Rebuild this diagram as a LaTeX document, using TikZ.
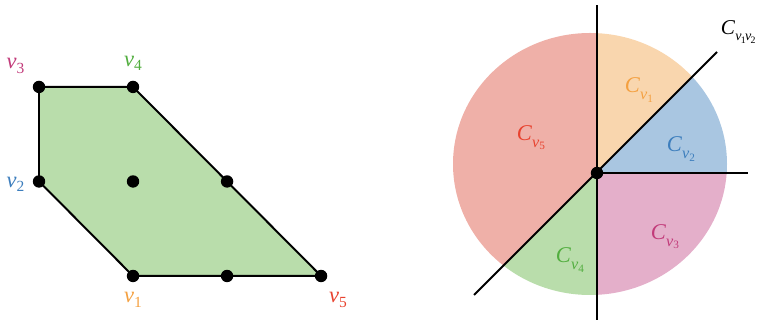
\documentclass[tikz,border=0pt]{standalone}
\usepackage{fontspec}
\setmainfont{Liberation Serif}
\usepackage{xcolor}
\usetikzlibrary{calc}
\definecolor{polygreen}{HTML}{B9DDAB}
\definecolor{conered}{HTML}{EFB0A8}
\definecolor{coneorange}{HTML}{F9D6AE}
\definecolor{coneblue}{HTML}{A9C6E1}
\definecolor{conepurple}{HTML}{E4AFCA}
\definecolor{conegreen}{HTML}{B9DDAB}
\definecolor{txtorange}{HTML}{F4A040}
\definecolor{txtblue}{HTML}{3D7EBD}
\definecolor{txtpurple}{HTML}{C23B7A}
\definecolor{txtgreen}{HTML}{52AE3F}
\definecolor{txtred}{HTML}{E8432F}
\newcommand{\vsub}[1]{\textit{v}\raisebox{-0.45ex}{\fontsize{11}{11}\selectfont #1}}
\newcommand{\csub}[1]{\textit{C}\raisebox{-0.6ex}{\fontsize{11.5}{12}\selectfont\itshape v\raisebox{-0.4ex}{\fontsize{8}{8}\selectfont\upshape #1}}}
\newcommand{\cpair}[2]{\textit{C}\raisebox{-0.6ex}{\fontsize{10}{11}\selectfont\itshape v\kern-0.05em\raisebox{-0.4ex}{\fontsize{7}{7}\selectfont\upshape #1}\kern-0.05em v\kern-0.05em\raisebox{-0.4ex}{\fontsize{7}{7}\selectfont\upshape #2}}}

\begin{document}
\begin{tikzpicture}[x=0.025cm, y=0.025cm, line width=1.4pt,
    lbl/.style={inner sep=0pt, font=\fontsize{16}{18}\selectfont},
    dot/.style={circle, fill=black, inner sep=0pt, minimum size=0.31cm}]
  \useasboundingbox (0,0) rectangle (758,321);

  % ================= LEFT: THE POLYGON =================
  \begin{scope}[shift={(0.975cm,1.125cm)}, x=2.35cm, y=2.3625cm]
    % Vertices
    \coordinate (v1) at (1,0);
    \coordinate (v5) at (3,0);
    \coordinate (v4) at (1,2);
    \coordinate (v3) at (0,2);
    \coordinate (v2) at (0,1);

    % Polygon
    \filldraw[fill=polygreen, draw=black] (v1) -- (v5) -- (v4) -- (v3) -- (v2) -- cycle;

    % Lattice points
    \foreach \p in {(0,1),(0,2),(1,2),(1,0),(3,0),(1,1),(2,1),(2,0)}
      \node[dot] at \p {};

    % Vertex labels
    \node[lbl, text=txtorange] (l1) at (1.0,-0.25) {\vsub{1}};
    \node[lbl, text=txtblue]   (l2) at (-0.25,0.97) {\vsub{2}};
    \node[lbl, text=txtpurple] (l3) at (-0.25,2.22) {\vsub{3}};
    \node[lbl, text=txtgreen]  (l4) at (1.0,2.25) {\vsub{4}};
    \node[lbl, text=txtred]    (l5) at (3.18,-0.25) {\vsub{5}};
  \end{scope}

  % ================= RIGHT: THE NORMAL FAN =================
  \coordinate (o) at (597,148);
  \begin{scope}
    \clip (590,157) ellipse [x radius=137, y radius=131];
    \fill[coneorange] (o) -- (597,400) -- (849,400) -- cycle;
    \fill[coneblue]   (o) -- (849,400) -- (849,148) -- cycle;
    \fill[conepurple] (o) -- (849,148) -- (849,-100) -- (597,-100) -- cycle;
    \fill[conegreen]  (o) -- (597,-100) -- (349,-100) -- cycle;
    \fill[conered]    (o) -- (349,-100) -- (349,400) -- (597,400) -- cycle;
  \end{scope}

  % Rays
  \coordinate (top) at (597,316);
  \coordinate (bot) at (597,1);
  \coordinate (east) at (748,148);
  \coordinate (ne) at (717,269);
  \coordinate (sw) at (474,26);
  \draw (bot) -- (top);
  \draw (o) -- (east);
  \draw (sw) -- (ne);
  \node[dot] (odot) at (o) {};

  % Cone labels
  \node[lbl, text=txtorange] (c1) at (639,231) {\csub{1}};
  \node[lbl, text=txtblue]   (c2) at (681,172) {\csub{2}};
  \node[lbl, text=txtpurple] (c3) at (665,84)  {\csub{3}};
  \node[lbl, text=txtgreen]  (c4) at (570,61)  {\csub{4}};
  \node[lbl, text=txtred]    (c5) at (531,183) {\csub{5}};
  \node[lbl, anchor=west, font=\fontsize{15}{17}\selectfont] (c12) at (720,289) {\cpair{1}{2}};
\end{tikzpicture}
\end{document}
